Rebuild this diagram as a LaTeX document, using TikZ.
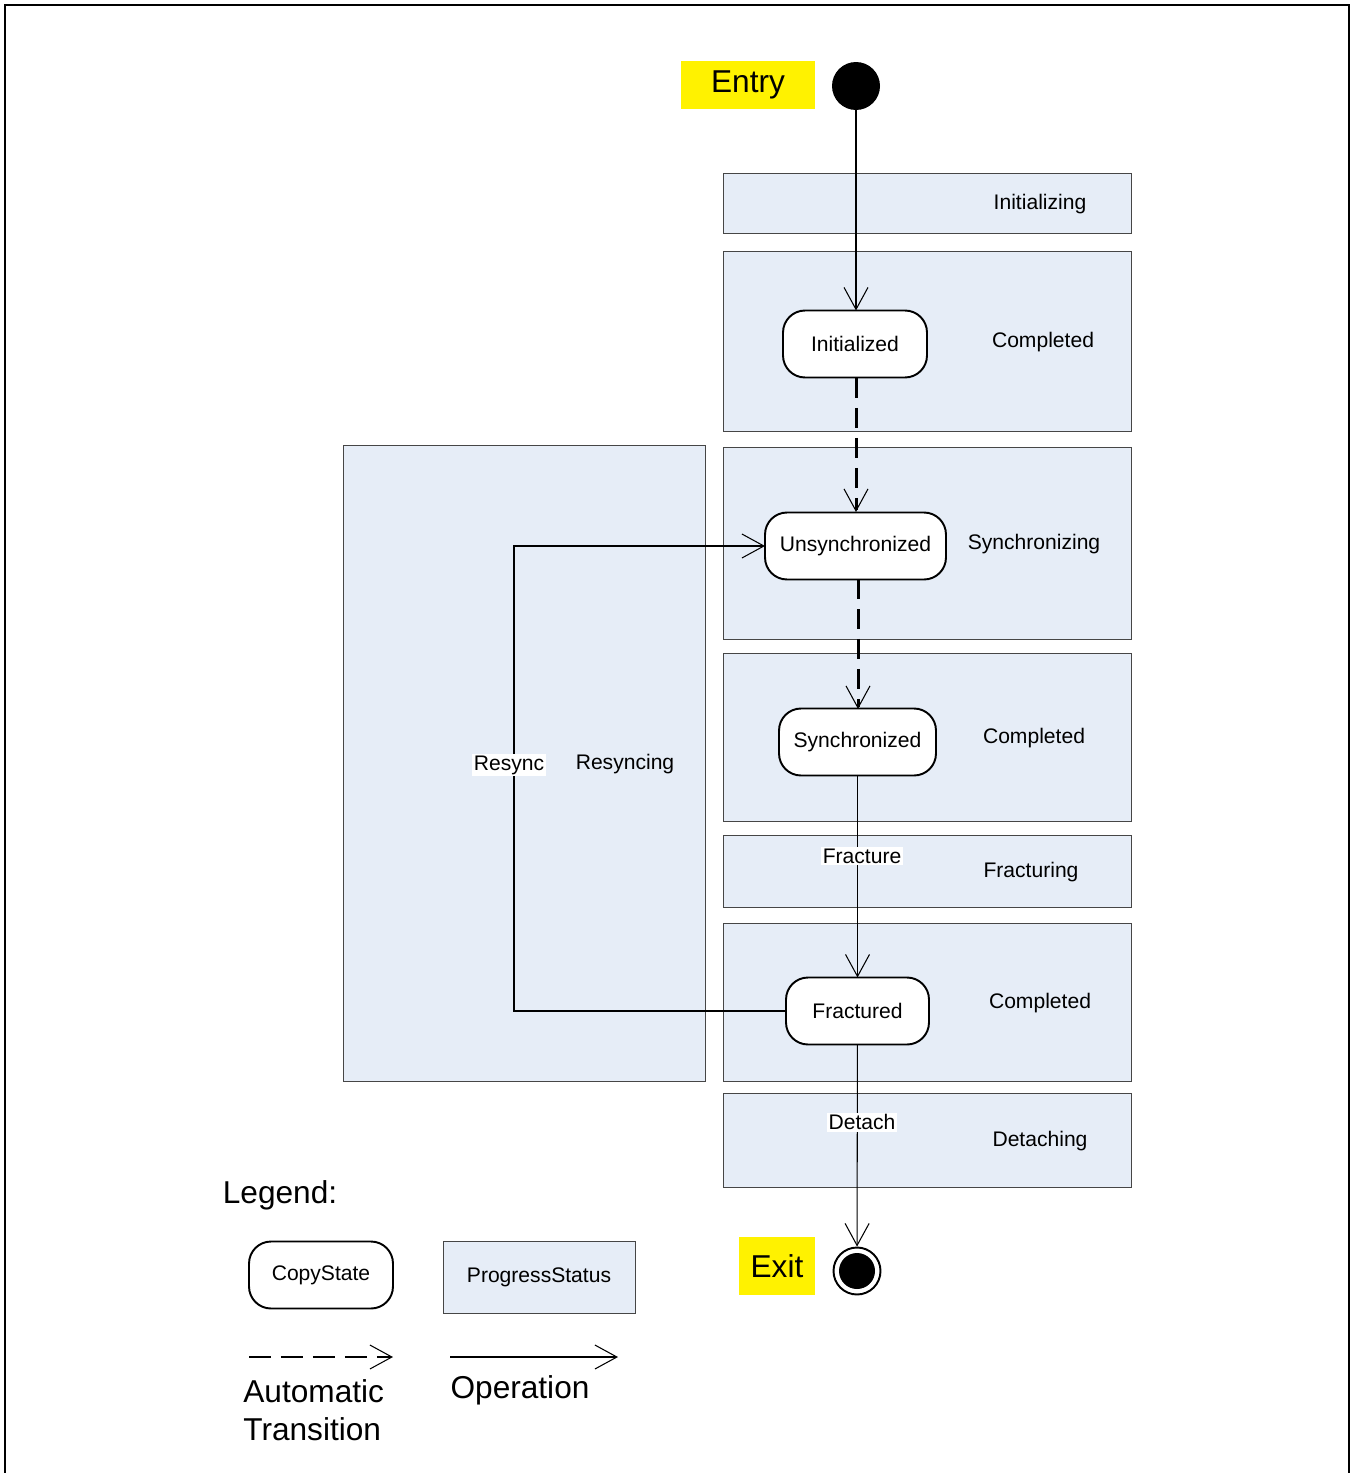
\documentclass[tikz,border=0pt]{standalone}
\usepackage{fontspec}
\setmainfont{Liberation Sans}
\usetikzlibrary{arrows.meta}
\definecolor{boxfill}{RGB}{230,237,247}
\definecolor{boxline}{RGB}{70,70,70}
\begin{document}
\begin{tikzpicture}[x=0.02cm,y=-0.02cm,
  font=\fontsize{12pt}{14pt}\selectfont,
  statusbox/.style={draw=boxline,fill=boxfill,line width=0.5pt,inner sep=0pt,outer sep=0pt,minimum width=8.16cm},
  copystate/.style={draw,line width=1.1pt,rounded corners=4.4mm,fill=white,inner sep=0pt,outer sep=0pt,minimum height=1.34cm},
  yellowbox/.style={fill=yellow,inner sep=0pt,minimum height=0.96cm,font=\fontsize{18pt}{21pt}\selectfont},
  big/.style={font=\fontsize{18pt}{21.6pt}\selectfont},
  lbl/.style={fill=white,inner sep=1pt},
  tip/.style={-{Straight Barb[length=4.4mm,width=4.8mm,line width=0.6pt]}},
  op/.style={tip,line width=0.6pt},
  autotr/.style={tip,line width=1.7pt,dash pattern=on 4mm off 2mm},
  legauto/.style={tip,line width=0.6pt,dash pattern=on 4.4mm off 2mm}]
\useasboundingbox (0,0) rectangle (1351,1473);
\draw[line width=1.2pt] (5,1473) -- (5,5) -- (1349,5) -- (1349,1473);

% progress status boxes
\node[statusbox,minimum height=1.2cm] (bInit) at (927,203) {};
\node[statusbox,minimum height=3.6cm] (bComp1) at (927,341) {};
\node[statusbox,minimum height=3.84cm] (bSync) at (927,543) {};
\node[statusbox,minimum height=3.36cm] (bComp2) at (927,737) {};
\node[statusbox,minimum height=1.44cm] (bFrac) at (927,871) {};
\node[statusbox,minimum height=3.16cm] (bComp3) at (927,1002) {};
\node[statusbox,minimum height=1.88cm] (bDet) at (927,1140) {};
\node[statusbox,minimum width=7.24cm,minimum height=12.72cm] (bResync) at (524,763) {};

\node (tInit) at (1040,204) {Initializing};
\node (tComp1) at (1043,342) {Completed};
\node (tSync) at (1034,544) {Synchronizing};
\node (tComp2) at (1034,738) {Completed};
\node (tFrac) at (1031,872) {Fracturing};
\node (tComp3) at (1040,1003) {Completed};
\node (tDet) at (1040,1141) {Detaching};
\node (tResync) at (625,764) {Resyncing};

% entry / exit
\node[yellowbox,minimum width=2.68cm] (entrylbl) at (748,85) {Entry};
\node[circle,fill=black,minimum size=0.96cm,inner sep=0pt] (entry) at (856,86) {};
\node[yellowbox,minimum width=1.52cm,minimum height=1.16cm] (exitlbl) at (777,1266) {Exit};
\node[circle,draw,line width=1.1pt,fill=white,minimum size=0.94cm,inner sep=0pt] (exit) at (857,1271) {};
\node[circle,fill=black,minimum size=0.72cm,inner sep=0pt] (exitdot) at (857,1271) {};

% copy states
\node[copystate,minimum width=2.88cm] (initd) at (855,344) {Initialized};
\node[copystate,minimum width=3.62cm] (unsync) at (855.5,546) {Unsynchronized};
\node[copystate,minimum width=3.14cm] (syncd) at (857.5,742) {Synchronized};
\node[copystate,minimum width=2.86cm] (fractured) at (857.5,1011) {Fractured};

% connectors
\draw[op] (entry) -- (entry |- initd.north);
\draw[autotr] (856,378) -- (856,512);
\draw[autotr] (858,579) -- (858,709);
\draw[op] (syncd) -- (fractured);
\node[lbl] (fraclbl) at (862,856) {Fracture};
\draw[op] (fractured) -- (exit);
\node[lbl] (detlbl) at (862,1122) {Detach};
\coordinate (rc) at (514,1011);
\draw[op] (fractured.west) -- (rc) |- (unsync.west);
\node[lbl] (resynclbl) at (509,765) {Resync};

% legend
\node[big] (legend) at (280,1195) {Legend:};
\node[copystate,minimum width=2.88cm] (lcopy) at (321,1275) {CopyState};
\node[statusbox,minimum width=3.84cm,minimum height=1.44cm] (lprog) at (539,1277) {ProgressStatus};
\coordinate (la1) at (249,1357);
\coordinate (la2) at (393,1357);
\coordinate (lo1) at (450,1357);
\coordinate (lo2) at (618,1357);
\draw[legauto] (la1) -- (la2);
\draw[op] (lo1) -- (lo2);
\node[big,align=left,anchor=west,inner sep=0pt] (lauto) at (243,1410) {Automatic\\Transition};
\node[big] (lop) at (520,1390) {Operation};
\end{tikzpicture}
\end{document}
